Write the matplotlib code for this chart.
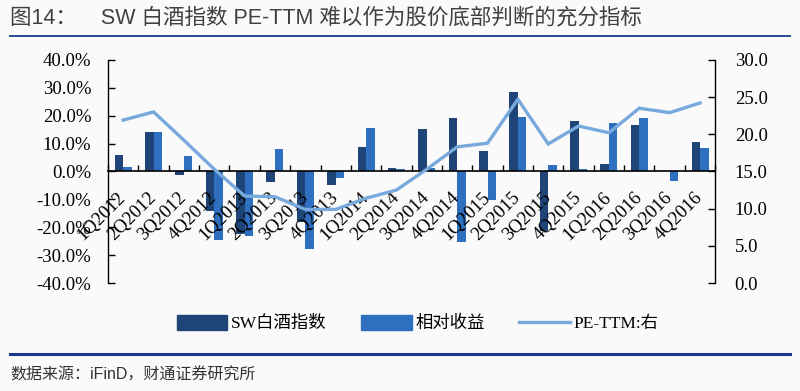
import matplotlib.pyplot as plt
import numpy as np
from matplotlib.lines import Line2D
from matplotlib.patches import Patch

quarters = ["1Q2012", "2Q2012", "3Q2012", "4Q2012",
            "1Q2013", "2Q2013", "3Q2013", "4Q2013",
            "1Q2014", "2Q2014", "3Q2014", "4Q2014",
            "1Q2015", "2Q2015", "3Q2015", "4Q2015",
            "1Q2016", "2Q2016", "3Q2016", "4Q2016"]
# quarterly return (%)
sw_baijiu = [6.0, 14.3, -1.4, -14.2, -22.3, -3.8, -18.0, -4.8, 8.6, 1.3,
             15.3, 19.0, 7.2, 28.4, -21.4, 17.9, 2.6, 16.8, 0.0, 10.4]
relative = [1.5, 14.3, 5.5, -24.5, -23.0, 7.9, -27.7, -2.4, 15.5, 1.0,
            1.4, -25.3, -10.1, 19.4, 2.4, 0.7, 17.3, 19.0, -3.5, 8.5]
# PE-TTM (right axis)
pe_ttm = [21.9, 23.0, 19.2, 15.3, 11.7, 11.6, 9.9, 9.9, 11.4, 12.5,
          15.3, 18.3, 18.8, 24.7, 18.7, 21.1, 20.2, 23.5, 22.9, 24.2]

left_ticks = [-40, -30, -20, -10, 0, 10, 20, 30, 40]
right_ticks = [0, 5, 10, 15, 20, 25, 30]

c_dark = "#1f4477"
c_light = "#2f6fbf"
c_line = "#77a9dc"
c_rule = "#1b3a8c"
serif = ["Liberation Serif", "Noto Sans CJK SC"]
sans = ["Liberation Sans", "Noto Sans CJK SC"]

fig = plt.figure(figsize=(8, 3.91), dpi=100, facecolor="#fafafa")
ax = fig.add_axes([0.135, 0.276, 0.759, 0.571])
ax.set_facecolor("none")

x = np.arange(len(quarters))
w = 0.28
ax.bar(x - w / 2, sw_baijiu, w, color=c_dark, zorder=1)
ax.bar(x + w / 2, relative, w, color=c_light, zorder=1)

ax.set_xlim(-0.5, len(quarters) - 0.5)
ax.set_ylim(-40, 40)
ax.set_yticks(left_ticks)
ax.set_yticklabels([f"{v:.1f}%" for v in left_ticks], family=serif, fontsize=13.5)
ax.tick_params(axis="y", direction="in", length=5, width=1, pad=12)

ax.spines["top"].set_visible(False)
ax.spines["right"].set_visible(False)
ax.spines["bottom"].set_position(("data", 0))
ax.spines["bottom"].set_linewidth(1.2)
ax.spines["left"].set_linewidth(1)

ax.set_xticks(x)
ax.set_xticklabels(quarters, rotation=45, ha="right", va="center",
                   rotation_mode="anchor", family=serif, fontsize=13.5)
ax.set_xticks(np.arange(-0.5, len(quarters)), minor=True)
ax.tick_params(axis="x", which="major", length=0, pad=17)
ax.tick_params(axis="x", which="minor", direction="in", length=4, width=1)

ax2 = ax.twinx()
ax2.plot(x, pe_ttm, color=c_line, lw=2.4, solid_joinstyle="miter")
ax2.set_ylim(0, 30)
ax2.set_yticks(right_ticks)
ax2.set_yticklabels([f"{v:.1f}" for v in right_ticks], family=serif, fontsize=13.5)
ax2.tick_params(axis="y", direction="in", length=5, width=1, pad=14)
for s in ["top", "left", "bottom"]:
    ax2.spines[s].set_visible(False)
ax2.spines["right"].set_linewidth(1)

handles = [Patch(color=c_dark), Patch(color=c_light), Line2D([], [], color=c_line, lw=2.4)]
fig.legend(handles, ["SW白酒指数", "相对收益", "PE-TTM:右"], loc="center",
           bbox_to_anchor=(0.522, 0.172), ncol=3, frameon=False,
           prop={"family": serif, "size": 12.5}, handlelength=2.9,
           handleheight=0.9, columnspacing=2.0, handletextpad=0.2)

fig.text(0.0125, 0.955, "图14：    SW 白酒指数 PE-TTM 难以作为股价底部判断的充分指标",
         family=sans, fontsize=15.5, color="#404040", va="center")
fig.add_artist(Line2D([0.0125, 0.9875], [0.908, 0.908], color=c_rule, lw=1.3,
                      transform=fig.transFigure))
fig.add_artist(Line2D([0.0125, 0.9875], [0.094, 0.094], color=c_rule, lw=2.2,
                      transform=fig.transFigure))
fig.text(0.0125, 0.042, "数据来源：iFinD，财通证券研究所", family=sans,
         fontsize=11.5, color="#333333", va="center")

fig.savefig("out.png", dpi=100, facecolor=fig.get_facecolor())
